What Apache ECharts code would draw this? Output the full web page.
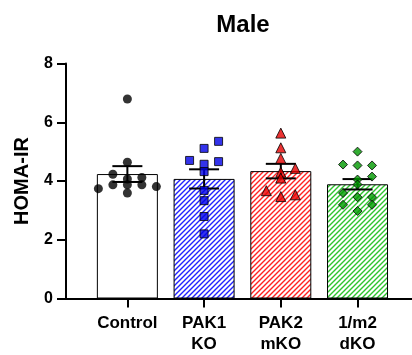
<!DOCTYPE html>
<html>
<head>
<meta charset="utf-8">
<script src="https://cdn.jsdelivr.net/npm/echarts@6/dist/echarts.min.js"></script>
<style>
  html, body { margin: 0; padding: 0; background: #fff; }
  #chart { width: 412px; height: 355px; }
</style>
</head>
<body>
<div id="chart"></div>
<script>
// Group names (x axis) and individual HOMA-IR values per animal
const categories = ['Control', 'PAK1\nKO', 'PAK2\nmKO', '1/m2\ndKO'];
const control = [6.79, 4.64, 4.23, 4.12, 4.07, 3.87, 3.81, 3.87, 3.87, 3.74, 3.59];
const pak1KO = [5.35, 5.11, 4.70, 4.66, 4.57, 4.32, 3.68, 3.33, 2.79, 2.20];
const pak2mKO = [5.63, 5.13, 4.77, 4.43, 4.30, 4.10, 3.67, 3.53, 3.47];
const dKO = [5.00, 4.56, 4.53, 4.53, 4.15, 4.05, 3.88, 3.59, 3.45, 3.45, 3.19, 3.19, 2.98];
const yTicks = [0, 2, 4, 6, 8];

const groups = [control, pak1KO, pak2mKO, dKO];

// Layout
const GRID_LEFT = 66, GRID_TOP = 63.5, GRID_BOTTOM = 56.5, GRID_RIGHT = 0;
const X_MIN = -0.8, X_MAX = 3.71;
const PX_PER_UNIT = (412 - GRID_LEFT - GRID_RIGHT) / (X_MAX - X_MIN);
const SLOT = 14.5 / PX_PER_UNIT;  // horizontal step between neighbouring dots
const ROW_SPAN = 0.25;            // values closer than this share one row

const FONT = '"Liberation Sans", Arial, sans-serif';

function mean(a) { return a.reduce((s, v) => s + v, 0) / a.length; }
function sem(a) {
  const m = mean(a);
  const v = a.reduce((s, x) => s + (x - m) * (x - m), 0) / (a.length - 1);
  return Math.sqrt(v) / Math.sqrt(a.length);
}

// Simple scatter-dot layout: nearby values are spread sideways in rows
const RANK = [-1, 1, 0, 2, -2, 3, -3, 4, -4];
function swarm(values, gi) {
  const sorted = values.slice().sort((a, b) => b - a);
  const rows = [];
  let cur = null;
  sorted.forEach(v => {
    if (cur && cur[0] - v <= ROW_SPAN) cur.push(v);
    else { cur = [v]; rows.push(cur); }
  });
  const pts = [];
  rows.forEach(row => {
    const n = row.length;
    const lo = -Math.floor((n - 1) / 2);
    const slots = [];
    for (let k = 0; k < n; k++) slots.push(lo + k);
    slots.sort((a, b) => RANK.indexOf(a) - RANK.indexOf(b));
    row.forEach((v, i) => pts.push([gi + slots[i] * SLOT, v]));
  });
  return pts;
}

// Diagonal hatch fill
function hatch(color) {
  const s = 5;
  const c = document.createElement('canvas');
  c.width = s; c.height = s;
  const g = c.getContext('2d');
  g.fillStyle = '#fff';
  g.fillRect(0, 0, s, s);
  g.strokeStyle = color;
  g.lineWidth = 1.4;
  g.beginPath();
  g.moveTo(-1, s + 1); g.lineTo(s + 1, -1);
  g.moveTo(-1, 1); g.lineTo(1, -1);
  g.moveTo(s - 1, s + 1); g.lineTo(s + 1, s - 1);
  g.stroke();
  return { image: c, repeat: 'repeat' };
}

const barFills = ['#ffffff', hatch('#2222ff'), hatch('#ff2222'), hatch('#2ec42e')];
const dotStyles = [
  { symbol: 'circle', size: 9, color: '#000000' },
  { symbol: 'rect', size: 8, color: '#0000e6' },
  { symbol: 'triangle', size: 10, color: '#e60000' },
  { symbol: 'diamond', size: 9, color: '#009900' }
];

const barData = groups.map((g, i) => ({
  value: [i, mean(g)],
  itemStyle: { color: barFills[i], borderColor: '#000', borderWidth: 1 }
}));
const errData = groups.map((g, i) => [i, mean(g), sem(g)]);

const scatterSeries = groups.map((g, i) => ({
  type: 'scatter',
  data: swarm(g, i),
  symbol: dotStyles[i].symbol,
  symbolSize: dotStyles[i].size,
  itemStyle: {
    color: dotStyles[i].color,
    borderColor: '#000',
    borderWidth: i === 0 ? 0 : 1
  },
  z: 5,
  silent: true
}));

const chart = echarts.init(document.getElementById('chart'), null, { renderer: 'canvas' });
chart.setOption({
  animation: false,
  backgroundColor: '#fff',
  title: {
    text: 'Male',
    left: 238,
    top: 8,
    textAlign: 'center',
    textStyle: { fontFamily: FONT, fontWeight: 'bold', fontSize: 24, color: '#000' }
  },
  grid: { left: GRID_LEFT, right: GRID_RIGHT, top: GRID_TOP, bottom: GRID_BOTTOM, containLabel: false },
  xAxis: {
    type: 'value',
    min: X_MIN,
    max: X_MAX,
    splitLine: { show: false },
    axisLine: { show: true, onZero: false, lineStyle: { color: '#000', width: 2 } },
    axisTick: { show: true, customValues: [0, 1, 2, 3], length: 9, lineStyle: { color: '#000', width: 2 } },
    axisLabel: {
      customValues: [0, 1, 2, 3],
      formatter: v => categories[Math.round(v)],
      fontFamily: FONT, fontWeight: 'bold', fontSize: 17, color: '#000',
      lineHeight: 21, margin: 14, align: 'center'
    }
  },
  yAxis: {
    type: 'value',
    min: yTicks[0],
    max: yTicks[yTicks.length - 1],
    interval: 2,
    name: 'HOMA-IR',
    nameLocation: 'middle',
    nameRotate: 90,
    nameGap: 34,
    nameTextStyle: { fontFamily: FONT, fontWeight: 'bold', fontSize: 20, color: '#000' },
    splitLine: { show: false },
    axisLine: { show: true, onZero: false, lineStyle: { color: '#000', width: 2 } },
    axisTick: { show: true, length: 9, lineStyle: { color: '#000', width: 2 } },
    axisLabel: { fontFamily: FONT, fontWeight: 'bold', fontSize: 16, color: '#000', margin: 13 }
  },
  series: [
    {
      type: 'bar',
      data: barData,
      barWidth: 61,
      z: 2,
      silent: true
    },
    {
      type: 'custom',
      data: errData,
      z: 4,
      silent: true,
      renderItem: (params, api) => {
        const x = api.value(0), m = api.value(1), e = api.value(2);
        const top = api.coord([x, m + e]);
        const bot = api.coord([x, m - e]);
        const half = 15;
        const style = { stroke: '#000', lineWidth: 2 };
        return {
          type: 'group',
          children: [
            { type: 'line', shape: { x1: top[0], y1: top[1], x2: bot[0], y2: bot[1] }, style },
            { type: 'line', shape: { x1: top[0] - half, y1: top[1], x2: top[0] + half, y2: top[1] }, style },
            { type: 'line', shape: { x1: bot[0] - half, y1: bot[1], x2: bot[0] + half, y2: bot[1] }, style }
          ]
        };
      }
    },
    ...scatterSeries
  ]
});
</script>
</body>
</html>
